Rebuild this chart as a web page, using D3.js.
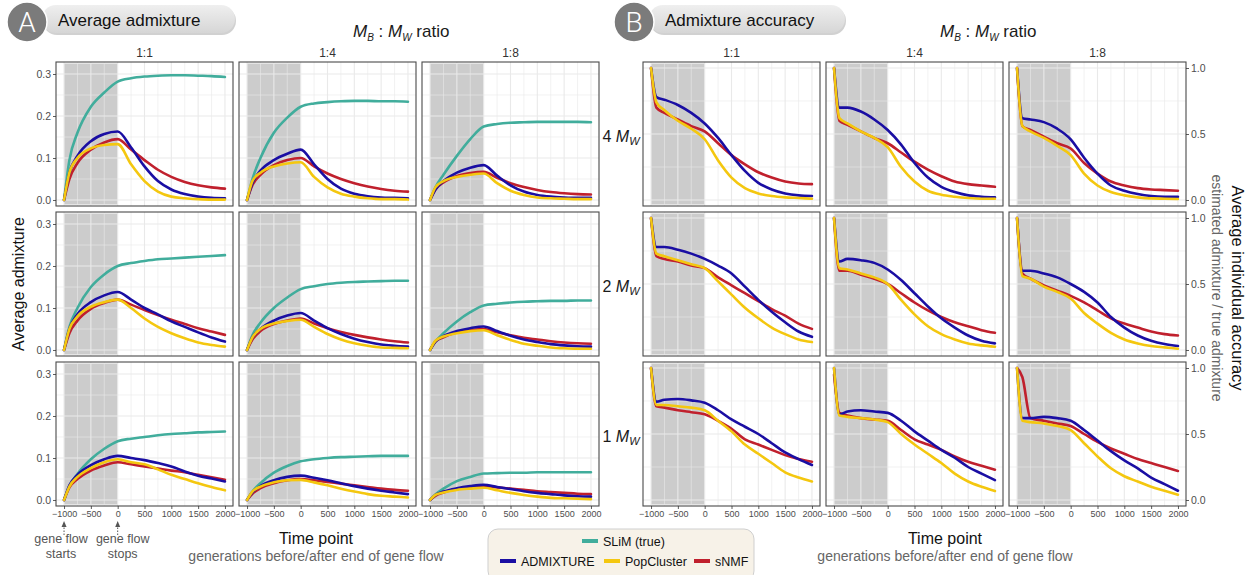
<!DOCTYPE html>
<html><head><meta charset="utf-8">
<script src="https://cdn.jsdelivr.net/npm/d3@7"></script>
<style>
body{margin:0;background:#fff}
svg{display:block}
text{font-family:"Liberation Sans",Arial,Helvetica,sans-serif}
</style>
</head><body>
<svg id="chart" width="1250" height="575"></svg>
<script>
// ---------------- DATA ----------------
const timePoints = [-1000,-900,-750,-500,-250,0,250,500,750,1000,1250,1500,1750,2000];
const ratioLabels = ["1:1","1:4","1:8"];
const migrationLabels = ["4","2","1"];
const xTickValues = [-1000,-500,0,500,1000,1500,2000];
const admixTickValues = [0,0.1,0.2,0.3];
const accTickValues = [0,0.5,1];
const seriesNames = ["SLiM (true)","ADMIXTURE","PopCluster","sNMF"];
const seriesColors = ["#41ad9c","#1a0ea3","#f4c70f","#c0202d"];

// panel order: rows (4 Mw, 2 Mw, 1 Mw) x columns (1:1, 1:4, 1:8)
const admixSLiM = [
  [0,0.095,0.16,0.222,0.256,0.282,0.29,0.294,0.296,0.297,0.297,0.296,0.295,0.293],
  [0,0.05,0.1,0.16,0.196,0.222,0.23,0.233,0.235,0.236,0.236,0.235,0.235,0.234],
  [0,0.03,0.06,0.105,0.145,0.175,0.181,0.184,0.185,0.186,0.186,0.186,0.186,0.185],
  [0,0.055,0.1,0.15,0.18,0.2,0.207,0.212,0.216,0.218,0.22,0.222,0.224,0.226],
  [0,0.035,0.065,0.1,0.125,0.145,0.152,0.157,0.16,0.162,0.163,0.164,0.165,0.165],
  [0,0.02,0.04,0.068,0.09,0.106,0.11,0.113,0.115,0.116,0.117,0.117,0.118,0.118],
  [0,0.033,0.062,0.097,0.122,0.14,0.146,0.15,0.154,0.157,0.159,0.161,0.162,0.163],
  [0,0.02,0.04,0.065,0.081,0.092,0.097,0.1,0.102,0.103,0.104,0.105,0.105,0.105],
  [0,0.013,0.027,0.045,0.055,0.063,0.064,0.065,0.065,0.066,0.066,0.066,0.066,0.066]
];
const admixADMIXTURE = [
  [0,0.065,0.105,0.14,0.157,0.163,0.125,0.08,0.045,0.025,0.014,0.008,0.005,0.004],
  [0,0.04,0.07,0.095,0.11,0.12,0.085,0.05,0.027,0.015,0.009,0.006,0.005,0.004],
  [0,0.025,0.045,0.065,0.077,0.083,0.058,0.035,0.02,0.012,0.008,0.006,0.005,0.005],
  [0,0.05,0.085,0.114,0.13,0.138,0.12,0.1,0.085,0.068,0.055,0.042,0.03,0.02],
  [0,0.03,0.05,0.07,0.082,0.088,0.07,0.052,0.038,0.027,0.019,0.013,0.01,0.008],
  [0,0.02,0.033,0.045,0.052,0.056,0.045,0.034,0.025,0.019,0.014,0.011,0.009,0.008],
  [0,0.035,0.06,0.083,0.097,0.105,0.1,0.095,0.088,0.08,0.068,0.058,0.051,0.044],
  [0,0.018,0.033,0.047,0.055,0.058,0.053,0.047,0.04,0.033,0.027,0.022,0.018,0.014],
  [0,0.012,0.02,0.028,0.033,0.036,0.031,0.026,0.021,0.017,0.014,0.011,0.009,0.008]
];
const admixPopCluster = [
  [0,0.065,0.1,0.123,0.131,0.133,0.085,0.045,0.02,0.008,0.004,0.002,0.001,0.001],
  [0,0.045,0.065,0.08,0.087,0.09,0.055,0.03,0.015,0.008,0.004,0.002,0.002,0.001],
  [0,0.03,0.045,0.055,0.06,0.063,0.04,0.022,0.012,0.006,0.004,0.003,0.002,0.002],
  [0,0.05,0.08,0.103,0.114,0.12,0.1,0.075,0.055,0.04,0.028,0.018,0.012,0.008],
  [0,0.03,0.05,0.063,0.069,0.072,0.055,0.038,0.025,0.016,0.01,0.006,0.005,0.004],
  [0,0.022,0.032,0.04,0.045,0.047,0.035,0.024,0.015,0.01,0.006,0.004,0.003,0.003],
  [0,0.032,0.055,0.076,0.09,0.097,0.09,0.085,0.073,0.06,0.05,0.04,0.031,0.023],
  [0,0.02,0.032,0.042,0.047,0.048,0.042,0.035,0.027,0.02,0.014,0.01,0.008,0.006],
  [0,0.012,0.018,0.024,0.027,0.029,0.023,0.017,0.012,0.008,0.005,0.004,0.003,0.002]
];
const admixSNMF = [
  [0,0.05,0.088,0.12,0.137,0.145,0.12,0.095,0.072,0.055,0.043,0.035,0.03,0.027],
  [0,0.035,0.06,0.083,0.095,0.1,0.08,0.063,0.05,0.04,0.032,0.026,0.022,0.02],
  [0,0.025,0.042,0.057,0.064,0.067,0.053,0.04,0.031,0.024,0.019,0.016,0.014,0.013],
  [0,0.04,0.07,0.098,0.112,0.12,0.108,0.095,0.083,0.072,0.062,0.052,0.044,0.036],
  [0,0.025,0.045,0.062,0.07,0.075,0.063,0.052,0.043,0.036,0.03,0.025,0.021,0.018],
  [0,0.02,0.03,0.042,0.047,0.05,0.042,0.035,0.029,0.025,0.021,0.018,0.016,0.015],
  [0,0.03,0.05,0.07,0.082,0.09,0.085,0.08,0.075,0.07,0.066,0.06,0.054,0.048],
  [0,0.015,0.028,0.04,0.047,0.05,0.047,0.043,0.039,0.035,0.031,0.027,0.024,0.022],
  [0,0.01,0.018,0.026,0.03,0.033,0.03,0.027,0.024,0.021,0.019,0.017,0.015,0.014]
];
const accADMIXTURE = [
  [1,0.78,0.76,0.72,0.66,0.58,0.47,0.34,0.22,0.13,0.08,0.05,0.035,0.03],
  [1,0.7,0.7,0.67,0.61,0.53,0.42,0.28,0.17,0.1,0.06,0.035,0.025,0.02],
  [1,0.62,0.61,0.59,0.54,0.46,0.32,0.2,0.11,0.07,0.045,0.03,0.025,0.025],
  [1,0.78,0.78,0.76,0.73,0.69,0.64,0.58,0.48,0.38,0.29,0.21,0.14,0.1],
  [1,0.67,0.69,0.68,0.66,0.61,0.53,0.43,0.33,0.24,0.17,0.11,0.07,0.05],
  [1,0.6,0.6,0.58,0.55,0.5,0.44,0.36,0.25,0.17,0.11,0.07,0.045,0.03],
  [1,0.745,0.76,0.765,0.755,0.737,0.68,0.61,0.555,0.5,0.43,0.36,0.31,0.265],
  [1,0.65,0.67,0.68,0.67,0.66,0.6,0.52,0.45,0.38,0.32,0.25,0.2,0.15],
  [1,0.62,0.62,0.63,0.62,0.6,0.53,0.45,0.37,0.3,0.24,0.17,0.12,0.07]
];
const accPopCluster = [
  [1,0.74,0.68,0.6,0.54,0.46,0.3,0.17,0.09,0.05,0.03,0.02,0.015,0.01],
  [1,0.62,0.58,0.52,0.47,0.4,0.25,0.14,0.07,0.04,0.025,0.015,0.01,0.01],
  [1,0.56,0.52,0.47,0.41,0.34,0.2,0.11,0.06,0.035,0.02,0.012,0.01,0.008],
  [1,0.73,0.71,0.68,0.65,0.62,0.52,0.42,0.32,0.24,0.17,0.12,0.08,0.06],
  [1,0.62,0.61,0.58,0.55,0.5,0.38,0.27,0.18,0.12,0.08,0.05,0.035,0.025],
  [1,0.56,0.54,0.48,0.44,0.39,0.28,0.2,0.13,0.08,0.05,0.03,0.02,0.01],
  [1,0.72,0.72,0.71,0.7,0.68,0.6,0.52,0.42,0.35,0.28,0.21,0.17,0.14],
  [1,0.64,0.63,0.62,0.61,0.59,0.5,0.42,0.35,0.28,0.2,0.14,0.1,0.068],
  [1,0.6,0.59,0.58,0.56,0.53,0.43,0.33,0.24,0.18,0.14,0.1,0.07,0.04]
];
const accSNMF = [
  [1,0.7,0.66,0.61,0.56,0.52,0.43,0.34,0.27,0.21,0.17,0.14,0.125,0.12],
  [1,0.6,0.57,0.52,0.47,0.43,0.36,0.29,0.23,0.18,0.14,0.12,0.11,0.1],
  [1,0.56,0.53,0.48,0.43,0.39,0.28,0.2,0.14,0.11,0.09,0.08,0.075,0.07],
  [1,0.71,0.69,0.67,0.64,0.62,0.55,0.49,0.43,0.37,0.31,0.26,0.2,0.16],
  [1,0.6,0.6,0.57,0.54,0.5,0.43,0.36,0.3,0.25,0.21,0.18,0.15,0.13],
  [1,0.58,0.54,0.49,0.45,0.41,0.36,0.3,0.24,0.2,0.17,0.14,0.12,0.11],
  [1,0.71,0.7,0.68,0.665,0.65,0.6,0.54,0.46,0.42,0.38,0.34,0.31,0.29],
  [0.95,0.66,0.64,0.62,0.61,0.6,0.53,0.46,0.42,0.38,0.33,0.29,0.26,0.23],
  [1,0.93,0.62,0.6,0.58,0.56,0.5,0.44,0.39,0.35,0.31,0.28,0.25,0.22]
];

// ---------------- LAYOUT ----------------
const svg = d3.select("#chart");
const pw = 177, ph = 144;
const colsA = [56, 239, 422];
const colsB = [643, 826, 1009];
const rowsY = [62, 212, 362];
const xDomain = [-1150, 2150];
const admixDomain = [-0.0143, 0.3286];
const accDomain = [-0.0455, 1.0455];
const minorXTicks = [-750,-250,250,750,1250,1750];
const gridCol = "#e9e9e9";
const axisTextCol = "#4d4d4d";

function styleAxis(g, size, family) {
  g.select(".domain").remove();
  g.selectAll(".tick line").attr("stroke", "#333").attr("stroke-width", 0.8);
  g.selectAll(".tick text").attr("fill", axisTextCol).style("font-size", size + "px")
    .style("font-family", family);
}
const narrowFont = '"Liberation Sans Narrow","Arial Narrow","Liberation Sans",sans-serif';
const regFont = '"Liberation Sans",Arial,sans-serif';

function drawPanel(x0, y0, yDom, yMajor, yMinor, series) {
  const g = svg.append("g");
  const x = d3.scaleLinear().domain(xDomain).range([x0, x0 + pw]);
  const y = d3.scaleLinear().domain(yDom).range([y0 + ph, y0]);
  g.append("rect").attr("x", x0).attr("y", y0).attr("width", pw).attr("height", ph).attr("fill", "#fff");
  g.append("rect").attr("x", x(-1000)).attr("y", y0 + 1.5).attr("width", x(0) - x(-1000))
    .attr("height", ph - 3).attr("fill", "#cccccc");
  minorXTicks.forEach(v => g.append("line").attr("x1", x(v)).attr("x2", x(v)).attr("y1", y0).attr("y2", y0 + ph)
    .attr("stroke", gridCol).attr("stroke-width", 0.6));
  xTickValues.forEach(v => g.append("line").attr("x1", x(v)).attr("x2", x(v)).attr("y1", y0).attr("y2", y0 + ph)
    .attr("stroke", gridCol).attr("stroke-width", 1.1));
  yMinor.forEach(v => g.append("line").attr("y1", y(v)).attr("y2", y(v)).attr("x1", x0).attr("x2", x0 + pw)
    .attr("stroke", gridCol).attr("stroke-width", 0.6));
  yMajor.forEach(v => g.append("line").attr("y1", y(v)).attr("y2", y(v)).attr("x1", x0).attr("x2", x0 + pw)
    .attr("stroke", gridCol).attr("stroke-width", 1.1));
  const line = d3.line().curve(d3.curveMonotoneX).x(d => x(d[0])).y(d => y(d[1]));
  series.forEach(s => {
    g.append("path").datum(timePoints.map((t, i) => [t, s.vals[i]]))
      .attr("d", line).attr("fill", "none").attr("stroke", s.color)
      .attr("stroke-width", 2.6).attr("stroke-linejoin", "round").attr("stroke-linecap", "round");
  });
  g.append("rect").attr("x", x0).attr("y", y0).attr("width", pw).attr("height", ph)
    .attr("fill", "none").attr("stroke", "#4a4a4a").attr("stroke-width", 1.1);
  return {x, y};
}

for (let r = 0; r < 3; r++) {
  for (let c = 0; c < 3; c++) {
    const k = r * 3 + c;
    const sA = drawPanel(colsA[c], rowsY[r], admixDomain, admixTickValues, [0.05, 0.15, 0.25], [
      {color: seriesColors[0], vals: admixSLiM[k]},
      {color: seriesColors[3], vals: admixSNMF[k]},
      {color: seriesColors[1], vals: admixADMIXTURE[k]},
      {color: seriesColors[2], vals: admixPopCluster[k]}
    ]);
    if (c === 0) {
      const ax = svg.append("g").attr("transform", `translate(${colsA[c]},0)`)
        .call(d3.axisLeft(sA.y).tickValues(admixTickValues).tickSize(3).tickPadding(2).tickFormat(d3.format(".1f")));
      styleAxis(ax, 10.5, regFont);
    }
    if (r === 2) {
      const ax = svg.append("g").attr("transform", `translate(0,${rowsY[r] + ph})`)
        .call(d3.axisBottom(sA.x).tickValues(xTickValues).tickSize(3).tickPadding(2).tickFormat(d3.format("d")));
      styleAxis(ax, 9, narrowFont);
    }
    const sB = drawPanel(colsB[c], rowsY[r], accDomain, accTickValues, [0.25, 0.75], [
      {color: seriesColors[3], vals: accSNMF[k]},
      {color: seriesColors[1], vals: accADMIXTURE[k]},
      {color: seriesColors[2], vals: accPopCluster[k]}
    ]);
    if (c === 2) {
      const ax = svg.append("g").attr("transform", `translate(${colsB[c] + pw},0)`)
        .call(d3.axisRight(sB.y).tickValues(accTickValues).tickSize(3).tickPadding(2).tickFormat(d3.format(".1f")));
      styleAxis(ax, 10.5, regFont);
    }
    if (r === 2) {
      const ax = svg.append("g").attr("transform", `translate(0,${rowsY[r] + ph})`)
        .call(d3.axisBottom(sB.x).tickValues(xTickValues).tickSize(3).tickPadding(2).tickFormat(d3.format("d")));
      styleAxis(ax, 9, narrowFont);
    }
  }
}

// strip labels
ratioLabels.forEach((lab, c) => {
  [colsA, colsB].forEach(cols => {
    svg.append("text").attr("x", cols[c] + pw / 2).attr("y", 57).attr("text-anchor", "middle")
      .attr("fill", "#333").style("font-size", "12px").text(lab);
  });
});

// row labels (B)
migrationLabels.forEach((m, r) => {
  const t = svg.append("text").attr("x", 621).attr("y", rowsY[r] + 80).attr("text-anchor", "middle")
    .attr("fill", "#1a1a1a").style("font-size", "16px");
  t.append("tspan").text(m + " ");
  t.append("tspan").attr("font-style", "italic").text("M");
  t.append("tspan").attr("font-style", "italic").attr("dy", 3).style("font-size", "11px").text("W");
});

// ratio titles
function ratioTitle(x) {
  const t = svg.append("text").attr("x", x).attr("y", 37).attr("fill", "#1a1a1a").style("font-size", "17px");
  t.append("tspan").attr("font-style", "italic").text("M");
  t.append("tspan").attr("font-style", "italic").attr("dy", 4).style("font-size", "10px").text("B");
  t.append("tspan").attr("dy", -4).text(" : ");
  t.append("tspan").attr("font-style", "italic").text("M");
  t.append("tspan").attr("font-style", "italic").attr("dy", 4).style("font-size", "10px").text("W");
  t.append("tspan").attr("dy", -4).text(" ratio");
}
ratioTitle(353);
ratioTitle(940);

// headers
const defs = svg.append("defs");
const grad = defs.append("linearGradient").attr("id", "pillGrad").attr("x1", 0).attr("x2", 0).attr("y1", 0).attr("y2", 1);
grad.append("stop").attr("offset", "0%").attr("stop-color", "#efefef");
grad.append("stop").attr("offset", "100%").attr("stop-color", "#d6d6d6");
function header(cx, pillX, pillW, letter, label) {
  svg.append("rect").attr("x", pillX + 1).attr("y", 7).attr("width", pillW).attr("height", 28).attr("rx", 14)
    .attr("fill", "#bdbdbd").attr("opacity", 0.7);
  svg.append("rect").attr("x", pillX).attr("y", 5).attr("width", pillW).attr("height", 28).attr("rx", 14)
    .attr("fill", "url(#pillGrad)");
  svg.append("circle").attr("cx", cx).attr("cy", 22).attr("r", 20).attr("fill", "#7b7b7b")
    .attr("stroke", "#fff").attr("stroke-width", 1.5);
  svg.append("text").attr("x", cx).attr("y", 32).attr("text-anchor", "middle").attr("fill", "#fff")
    .style("font-size", "28px").style("font-family", "Roboto, 'Liberation Sans', sans-serif").style("font-weight", 300)
    .text(letter);
  svg.append("text").attr("x", cx + 31).attr("y", 26).attr("fill", "#111").style("font-size", "17px").text(label);
}
header(27, 42, 193, "A", "Average admixture");
header(634, 649, 196, "B", "Admixture accuracy");

// axis titles
svg.append("text").attr("transform", "translate(24,284) rotate(-90)").attr("text-anchor", "middle")
  .attr("fill", "#111").style("font-size", "16px").text("Average admixture");
svg.append("text").attr("transform", "translate(1232,288) rotate(90)").attr("text-anchor", "middle")
  .attr("fill", "#111").style("font-size", "16.5px").text("Average individual accuracy");
svg.append("text").attr("transform", "translate(1212,288) rotate(90)").attr("text-anchor", "middle")
  .attr("fill", "#666").style("font-size", "14px").text("estimated admixture / true admixture");

[316, 945].forEach(cx => {
  svg.append("text").attr("x", cx).attr("y", 544).attr("text-anchor", "middle").attr("fill", "#111")
    .style("font-size", "16px").text("Time point");
  svg.append("text").attr("x", cx).attr("y", 561).attr("text-anchor", "middle").attr("fill", "#666")
    .style("font-size", "14px").text("generations before/after end of gene flow");
});

// gene flow annotations
const xA0 = d3.scaleLinear().domain(xDomain).range([colsA[0], colsA[0] + pw]);
[[-1000, "starts"], [0, "stops"]].forEach(([t, w]) => {
  const xx = xA0(t);
  svg.append("line").attr("x1", xx).attr("x2", xx).attr("y1", 535).attr("y2", 526)
    .attr("stroke", "#555").attr("stroke-width", 1).attr("stroke-dasharray", "1.5,1.5");
  svg.append("path").attr("d", `M${xx - 2.5},${527} L${xx},${521} L${xx + 2.5},${527} Z`).attr("fill", "#555");
  const tx = t === -1000 ? xx - 3 : xx + 5;
  svg.append("text").attr("x", tx).attr("y", 543).attr("text-anchor", "middle").attr("fill", "#555")
    .style("font-size", "12.5px").text("gene flow");
  svg.append("text").attr("x", tx).attr("y", 558).attr("text-anchor", "middle").attr("fill", "#555")
    .style("font-size", "12.5px").text(w);
});

// legend
svg.append("rect").attr("x", 488).attr("y", 529).attr("width", 266).attr("height", 52).attr("rx", 10)
  .attr("fill", "#f7f2e8").attr("stroke", "#cfcfcf");
const legendItems = [
  {i: 0, x: 582, y: 541},
  {i: 1, x: 500, y: 561},
  {i: 2, x: 604, y: 561},
  {i: 3, x: 694, y: 561}
];
legendItems.forEach(d => {
  svg.append("line").attr("x1", d.x).attr("x2", d.x + 16).attr("y1", d.y).attr("y2", d.y)
    .attr("stroke", seriesColors[d.i]).attr("stroke-width", 4);
  svg.append("text").attr("x", d.x + 21).attr("y", d.y + 4.5).attr("fill", "#111")
    .style("font-size", "12.5px").text(seriesNames[d.i]);
});
</script>
</body></html>
